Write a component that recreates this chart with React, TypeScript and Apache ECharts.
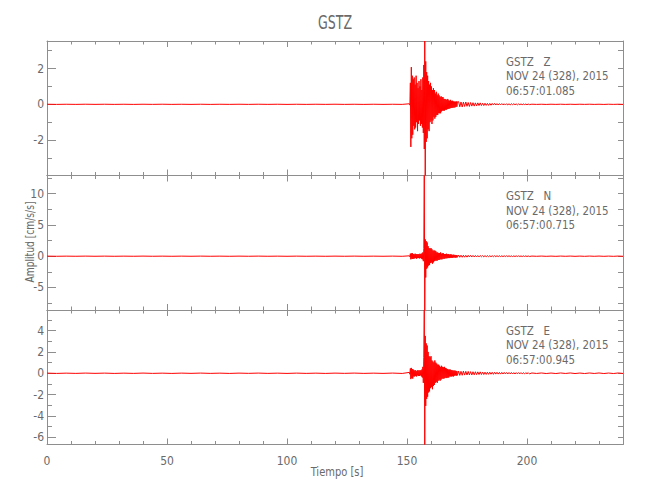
import React, { useEffect, useRef } from 'react';
import * as echarts from 'echarts';

// ---- Axis ticks / labels ----
const X_MAJOR = [0, 50, 100, 150, 200];
const X_MINOR = [10, 20, 30, 40, 60, 70, 80, 90, 110, 120, 130, 140, 160, 170, 180, 190, 210, 220, 230];
const X_MIN = 0;
const X_MAX = 240;

const Z_MAJOR = [-2, 0, 2];
const Z_MINOR = [-3, -1, 1, 3];
const N_MAJOR = [-5, 0, 5, 10];
const N_MINOR = [-7.5, -2.5, 2.5, 7.5, 12.5];
const E_MAJOR = [-6, -4, -2, 0, 2, 4];
const E_MINOR = [-5, -3, -1, 1, 3, 5];

const STATION = 'GSTZ';
const DATE_LABEL = 'NOV 24 (328), 2015';
const COMPONENTS = ['Z', 'N', 'E'];
const START_TIMES = ['06:57:01.085', '06:57:00.715', '06:57:00.945'];
const Y_RANGES: [number, number][] = [[-3.98, 3.54], [-8.6, 12.9], [-6.68, 5.93]];

// ---- Sampling of the hand-read trace segments: [start s, step s] ----
const SEGMENTS: [number, number][] = [[0, 4], [151, 0.2], [171.5, 0.5], [202, 2]];

// ---- Z component (cm/s/s) ----
const zPre = [
  0.004, -0.005, 0.003, -0.004, 0.005, -0.003, 0.004, -0.004, 0.003, -0.005,
  0.004, -0.003, 0.005, -0.004, 0.003, -0.004, 0.004, -0.005, 0.003, -0.003,
  0.004, -0.004, 0.005, -0.003, 0.004, -0.005, 0.003, -0.004, 0.004, -0.003,
  0.005, -0.004, 0.003, -0.005, 0.004, -0.004, 0.003, -0.004,
];
const zEvent = [
  0.03, -0.05, 1.2, -2.38, 2.08, -1.9, 1.6, -1.7, 1.4, -1.2,
  1.5, -1.4, 1.1, -1.3, 1.6, -1.0, 1.2, -1.5, 0.9, -1.1,
  1.3, -0.9, 1.0, -1.2, 1.4, -1.1, 0.8, -1.3, 1.5, -1.6,
  2.2, -2.5, 3.54, -3.98, 2.4, -2.1, 1.8, -1.9, 1.6, -1.4,
  1.3, -1.5, 1.1, -1.0, 1.2, -0.9, 1.0, -1.1, 0.8, -0.9,
  0.9, -0.7, 0.8, -0.8, 0.6, -0.7, 0.7, -0.6, 0.5, -0.6,
  0.6, -0.5, 0.5, -0.5, 0.4, -0.5, 0.45, -0.4, 0.4, -0.35,
  0.4, -0.35, 0.3, -0.35, 0.3, -0.3, 0.28, -0.3, 0.25, -0.27,
  0.3, -0.25, 0.22, -0.24, 0.2, -0.22, 0.25, -0.2, 0.18, -0.2,
  0.2, -0.18, 0.16, -0.18, 0.15, -0.17, 0.15, -0.14, 0.16, -0.13,
  0.14,
];
const zCoda = [
  0.15, -0.14, 0.13, -0.15, 0.12, -0.12, 0.13, -0.11, 0.1, -0.12,
  0.1, -0.1, 0.09, -0.1, 0.08, -0.09, 0.08, -0.07, 0.08, -0.07,
  0.06, -0.07, 0.06, -0.06, 0.05, -0.06, 0.05, -0.05, 0.05, -0.04,
  0.05, -0.04, 0.04, -0.04, 0.04, -0.03, 0.04, -0.03, 0.03, -0.04,
  0.03, -0.03, 0.03, -0.03, 0.03, -0.02, 0.03, -0.02, 0.02, -0.03,
  0.02, -0.02, 0.02, -0.02, 0.02, -0.015, 0.015, -0.02, 0.015, -0.015,
];
const zTail = [
  0.006, -0.005, 0.004, -0.006, 0.005, -0.004, 0.006, -0.005, 0.004, -0.005,
  0.005, -0.004, 0.006, -0.005, 0.004, -0.006, 0.005, -0.004, 0.005, -0.005,
];

// ---- N component ----
const nPre = [
  0.01, -0.012, 0.008, -0.01, 0.012, -0.008, 0.01, -0.012, 0.008, -0.01,
  0.012, -0.01, 0.008, -0.012, 0.01, -0.008, 0.012, -0.01, 0.008, -0.012,
  0.01, -0.008, 0.012, -0.01, 0.008, -0.012, 0.01, -0.01, 0.008, -0.012,
  0.01, -0.008, 0.012, -0.01, 0.008, -0.01, 0.012, -0.015,
];
const nEvent = [
  0.06, -0.1, 0.4, -0.5, 0.45, -0.4, 0.5, -0.45, 0.35, -0.4,
  0.3, -0.35, 0.4, -0.3, 0.35, -0.4, 0.3, -0.3, 0.35, -0.3,
  0.3, -0.35, 0.4, -0.3, 0.35, -0.4, 0.45, -0.5, 0.6, -0.8,
  1.2, 12.9, -8.6, 2.7, -3.4, 2.4, -2.0, 2.2, -1.8, 1.6,
  -1.5, 1.3, -1.4, 1.2, -1.1, 1.3, -1.0, 1.1, -1.2, 0.9,
  -1.0, 0.9, -0.8, 0.9, -0.7, 0.8, -0.7, 0.6, -0.7, 0.6,
  -0.6, 0.5, -0.6, 0.5, -0.5, 0.6, -0.5, 0.4, -0.5, 0.45,
  -0.4, 0.45, -0.4, 0.35, -0.4, 0.35, -0.3, 0.4, -0.35, 0.3,
  -0.3, 0.35, -0.3, 0.25, -0.3, 0.3, -0.25, 0.3, -0.25, 0.2,
  -0.25, 0.25, -0.2, 0.22, -0.2, 0.2, -0.22, 0.18, -0.2, 0.18,
  -0.18,
];
const nCoda = [
  0.18, -0.17, 0.16, -0.17, 0.15, -0.16, 0.14, -0.15, 0.14, -0.13,
  0.13, -0.12, 0.12, -0.12, 0.11, -0.11, 0.1, -0.11, 0.1, -0.09,
  0.09, -0.1, 0.09, -0.08, 0.09, -0.08, 0.08, -0.08, 0.07, -0.08,
  0.07, -0.07, 0.07, -0.06, 0.07, -0.06, 0.06, -0.06, 0.06, -0.06,
  0.06, -0.05, 0.06, -0.05, 0.05, -0.06, 0.05, -0.05, 0.05, -0.05,
  0.05, -0.05, 0.04, -0.05, 0.05, -0.04, 0.05, -0.05, 0.04, -0.05,
];
const nTail = [
  0.02, -0.015, 0.02, -0.02, 0.015, -0.02, 0.02, -0.015, 0.02, -0.02,
  0.015, -0.02, 0.02, -0.015, 0.02, -0.02, 0.015, -0.02, 0.02, -0.015,
];

// ---- E component ----
const ePre = [
  0.012, -0.015, 0.01, -0.012, 0.015, -0.01, 0.012, -0.015, 0.01, -0.012,
  0.015, -0.012, 0.01, -0.015, 0.012, -0.01, 0.015, -0.012, 0.01, -0.015,
  0.012, -0.01, 0.015, -0.012, 0.01, -0.015, 0.012, -0.012, 0.01, -0.015,
  0.012, -0.01, 0.015, -0.012, 0.01, -0.012, 0.015, -0.018,
];
const eEvent = [
  0.08, -0.1, 0.45, -0.55, 0.5, -0.45, 0.4, -0.5, 0.35, -0.3,
  0.25, -0.3, 0.3, -0.25, 0.2, -0.3, 0.25, -0.2, 0.3, -0.25,
  0.2, -0.25, 0.3, -0.2, 0.25, -0.3, 0.35, -0.4, 0.6, -0.9,
  1.5, 5.93, -6.68, 3.5, -3.06, 2.8, -2.4, 2.6, -2.2, 2.0,
  -1.8, 1.6, -1.7, 1.5, -1.4, 1.6, -1.3, 1.2, -1.5, 1.1,
  -1.2, 1.0, -1.1, 1.2, -0.9, 1.0, -0.8, 0.9, -0.9, 0.8,
  -0.7, 0.8, -0.6, 0.7, -0.7, 0.6, -0.6, 0.7, -0.5, 0.6,
  -0.5, 0.55, -0.5, 0.6, -0.45, 0.5, -0.4, 0.45, -0.45, 0.4,
  -0.4, 0.35, -0.4, 0.35, -0.3, 0.35, -0.3, 0.3, -0.3, 0.28,
  -0.28, 0.25, -0.3, 0.25, -0.22, 0.25, -0.2, 0.22, -0.22, 0.2,
  -0.2,
];
const eCoda = [
  0.2, -0.2, 0.18, -0.19, 0.2, -0.17, 0.18, -0.16, 0.17, -0.16,
  0.15, -0.16, 0.14, -0.15, 0.14, -0.13, 0.13, -0.12, 0.13, -0.12,
  0.11, -0.12, 0.1, -0.11, 0.1, -0.1, 0.1, -0.09, 0.09, -0.1,
  0.09, -0.08, 0.09, -0.08, 0.08, -0.08, 0.08, -0.07, 0.08, -0.07,
  0.07, -0.07, 0.07, -0.06, 0.07, -0.07, 0.06, -0.07, 0.06, -0.06,
  0.06, -0.06, 0.06, -0.06, 0.05, -0.06, 0.06, -0.05, 0.06, -0.06,
];
const eTail = [
  0.025, -0.02, 0.025, -0.025, 0.02, -0.025, 0.025, -0.02, 0.025, -0.025,
  0.02, -0.025, 0.025, -0.02, 0.025, -0.025, 0.02, -0.025, 0.025, -0.02,
];

const FONT = "'Liberation Sans Narrow', 'DejaVu Sans Condensed', 'Roboto Condensed', 'DejaVu Sans', sans-serif";
const AXIS_COLOR = '#8e8e8e';
const TEXT_COLOR = '#6a6a6a';

function buildTrace(parts: number[][]): [number, number][] {
  const out: [number, number][] = [];
  parts.forEach((vals, s) => {
    const [start, step] = SEGMENTS[s];
    vals.forEach((v, i) => out.push([+(start + i * step).toFixed(3), v]));
  });
  return out;
}

function txt(text: string, x: number, y: number, size: number, sx: number, align: string, rotation = 0) {
  return {
    type: 'text', x, y, rotation, scaleX: sx, silent: true,
    style: { text, fill: TEXT_COLOR, font: `${size}px ${FONT}`, textAlign: align, textVerticalAlign: 'middle' },
  };
}

function buildOption() {
  const traces = [
    buildTrace([zPre, zEvent, zCoda, zTail]),
    buildTrace([nPre, nEvent, nCoda, nTail]),
    buildTrace([ePre, eEvent, eCoda, eTail]),
  ];
  const majors = [Z_MAJOR, N_MAJOR, E_MAJOR];
  const minors = [Z_MINOR, N_MINOR, E_MINOR];
  const tops = [41, 175.5, 310];
  const H = 134.5;
  const LEFT = 47;
  const W = 576;

  const grid: any[] = [];
  const xAxis: any[] = [];
  const yAxis: any[] = [];
  const series: any[] = [];
  const graphic: any[] = [];

  const lineStyle = { color: AXIS_COLOR, width: 1 };

  for (let p = 0; p < 3; p++) {
    grid.push({ left: LEFT, top: tops[p], width: W, height: H, containLabel: false });
    const [ymin, ymax] = Y_RANGES[p];
    const mkX = (position: string, ticks: number[], len: number, showLine: boolean, labels: boolean) => ({
      type: 'value', gridIndex: p, min: X_MIN, max: X_MAX, position,
      axisLine: { show: showLine, onZero: false, lineStyle },
      axisTick: { show: true, inside: true, length: len, customValues: ticks, lineStyle },
      axisLabel: labels
        ? { show: true, customValues: X_MAJOR, color: TEXT_COLOR, fontFamily: FONT, fontSize: 12, margin: 10 }
        : { show: false },
      splitLine: { show: false },
    });
    xAxis.push(mkX('bottom', X_MAJOR, 6, true, p === 2));
    xAxis.push(mkX('bottom', X_MINOR, 3.5, false, false));
    xAxis.push(mkX('top', X_MAJOR, 6, true, false));
    xAxis.push(mkX('top', X_MINOR, 3.5, false, false));

    const mkY = (position: string, ticks: number[], len: number, showLine: boolean, labels: boolean) => ({
      type: 'value', gridIndex: p, min: ymin, max: ymax, position,
      axisLine: { show: showLine, onZero: false, lineStyle },
      axisTick: { show: true, inside: true, length: len, customValues: ticks, lineStyle },
      axisLabel: labels
        ? { show: true, customValues: majors[p], color: TEXT_COLOR, fontFamily: FONT, fontSize: 12, margin: 3 }
        : { show: false },
      splitLine: { show: false },
    });
    yAxis.push(mkY('left', majors[p], 9, true, true));
    yAxis.push(mkY('left', minors[p], 5, false, false));
    yAxis.push(mkY('right', [...majors[p], ...minors[p]], 5, true, false));

    series.push({
      type: 'line',
      xAxisIndex: p * 4,
      yAxisIndex: p * 3,
      data: traces[p],
      showSymbol: false,
      symbol: 'none',
      clip: true,
      silent: true,
      lineStyle: { color: '#ff0000', width: 1 },
    });

    const lines = [`${STATION}   ${COMPONENTS[p]}`, DATE_LABEL, START_TIMES[p]];
    lines.forEach((t, k) => {
      graphic.push(txt(t, 506, tops[p] + 20.5 + k * 14.5, 13, 0.88, 'left'));
    });
  }

  graphic.push(txt(STATION, 335, 22.5, 20, 0.7, 'center'));
  graphic.push(txt('Tiempo [s]', 337, 472, 13, 0.85, 'center'));
  graphic.push(txt('Amplitud [cm/s/s]', 30, 242, 12, 0.85, 'center', Math.PI / 2));

  return {
    animation: false,
    backgroundColor: '#ffffff',
    grid,
    xAxis,
    yAxis,
    series,
    graphic,
  };
}

export default function App() {
  const ref = useRef<HTMLDivElement>(null);
  useEffect(() => {
    document.body.style.margin = '0';
    const chart = echarts.init(ref.current!, null, { renderer: 'svg' });
    chart.setOption(buildOption() as any);
    return () => chart.dispose();
  }, []);
  return <div ref={ref} style={{ width: 650, height: 500 }} />;
}
